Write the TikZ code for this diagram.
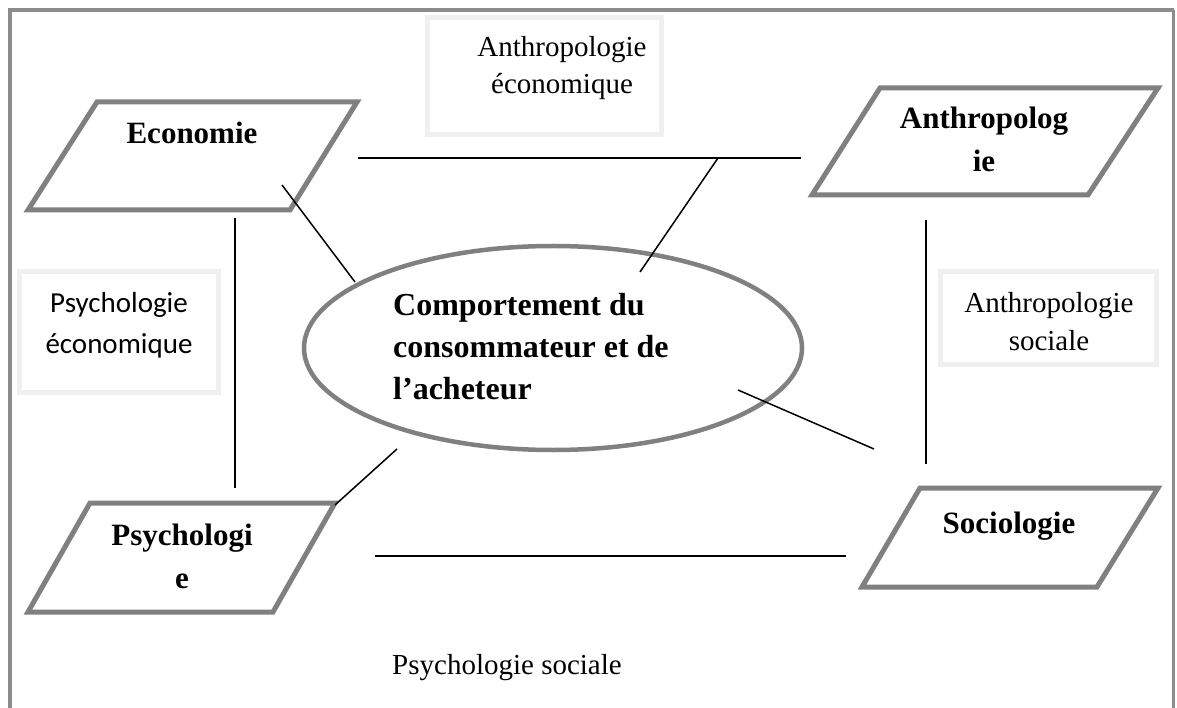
\documentclass[tikz,border=0pt]{standalone}
\usepackage{fontspec}
\setmainfont{Liberation Serif}
\newfontfamily\calibrifont{Carlito}
\usetikzlibrary{shapes.geometric}
\definecolor{framegray}{HTML}{8C8C8C}
\definecolor{shapegray}{HTML}{808080}
\definecolor{boxgray}{HTML}{F0F0F0}
\begin{document}
\begin{tikzpicture}[x=1pt,y=-1pt,
  para/.style={draw=shapegray,line width=5pt,line join=miter},
  ptext/.style={font=\fontsize{31}{43}\selectfont\bfseries,inner sep=0pt,anchor=base,align=center},
  link/.style={draw=black,line width=1.5pt},
  lbox/.style={draw=boxgray,line width=5pt},
  ltext/.style={font=\fontsize{29}{37.5}\selectfont,inner sep=0pt,anchor=base,align=center}]
\useasboundingbox (0,0) rectangle (1177,708);
\fill[white] (0,0) rectangle (1177,708);

% outer frame
\draw[framegray,line width=4.5pt] (10,708) -- (10,10) -- (1174,10);
\draw[framegray,line width=3pt] (1173,10) -- (1173,708);

% label boxes (anchor base = baseline of the last line)
\draw[lbox] (427.5,17.5) rectangle (661.5,134.5);
\node[ltext] (anteco) at (562,94) {Anthropologie\\économique};
\draw[lbox] (19.5,271.5) rectangle (218.5,392.5);
\node[ltext,font=\calibrifont\fontsize{29}{41}\selectfont] (psyeco) at (119,353) {Psychologie\\économique};
\draw[lbox] (940.5,271.5) rectangle (1156.5,364.5);
\node[ltext] (antsoc) at (1049,350) {Anthropologie\\sociale};
\node[ltext] (psysoc) at (507,674) {Psychologie sociale};

% parallelograms
\draw[para] (97,102) -- (357,102) -- (290,210) -- (28,210) -- cycle;
\node[ptext] (eco) at (192,144) {Economie};
\draw[para] (880,88) -- (1158,88) -- (1088,195) -- (812,195) -- cycle;
\node[ptext] (ant) at (984,172) {Anthropolog\\ie};
\draw[para] (90,503) -- (335,503) -- (273,612) -- (28,612) -- cycle;
\node[ptext] (psy) at (182,588) {Psychologi\\e};
\draw[para] (920,488) -- (1158,488) -- (1097,587) -- (862,587) -- cycle;
\node[ptext] (soc) at (1009,533) {Sociologie};

% central ellipse
\node[draw=shapegray,line width=4.5pt,ellipse,minimum width=498pt,minimum height=204pt,inner sep=0pt] (cdc) at (553,348) {};
\node[font=\fontsize{32}{42}\selectfont\bfseries,inner sep=0pt,anchor=base west,align=left] (cdctext) at (393,399) {Comportement du\\consommateur et de\\l’acheteur};

% connector end points
\coordinate (e1) at (282,185);
\coordinate (c1) at (355,282);
\coordinate (h1) at (358,158);
\coordinate (h2) at (801,158);
\coordinate (j) at (718,158);
\coordinate (c2) at (640,272);
\coordinate (v1) at (235,218);
\coordinate (v2) at (235,488);
\coordinate (v3) at (926,220);
\coordinate (v4) at (926,464);
\coordinate (c3) at (738,390);
\coordinate (s1) at (874,449);
\coordinate (p1) at (335,505);
\coordinate (c4) at (397,449);
\coordinate (b1) at (375,556);
\coordinate (b2) at (846,556);

\draw[link] (e1) -- (c1);
\draw[link] (h1) -- (h2);
\draw[link] (j) -- (c2);
\draw[link] (v1) -- (v2);
\draw[link] (v3) -- (v4);
\draw[link] (c3) -- (s1);
\draw[link] (p1) -- (c4);
\draw[link] (b1) -- (b2);
\end{tikzpicture}
\end{document}
